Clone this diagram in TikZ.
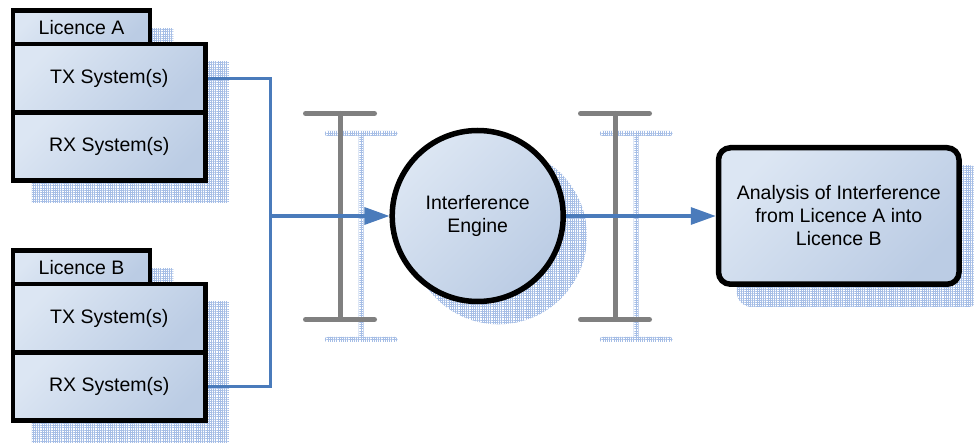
\documentclass[tikz,border=0pt]{standalone}
\usepackage{fontspec}
\setmainfont{Liberation Sans}
\usetikzlibrary{arrows.meta,patterns.meta}

\definecolor{boxlight}{HTML}{DCE6F3}
\definecolor{boxdark}{HTML}{BBCCE4}
\definecolor{linkblue}{HTML}{4A7BBB}
\definecolor{gridblue}{HTML}{A6BEE6}
\definecolor{beamgray}{HTML}{808080}

\pgfdeclarelayer{shadowlayer}
\pgfdeclarelayer{beamlayer}
\pgfdeclarelayer{linklayer}
\pgfsetlayers{shadowlayer,beamlayer,main,linklayer}

\tikzset{
  lbl/.style={font=\fontsize{19.5}{23}\selectfont, text=black, align=center},
  panel/.style={lbl, draw=black, line width=4.5pt, rectangle, inner sep=0pt,
    top color=boxlight, bottom color=boxdark, shading angle=45},
  shadowfill/.style={pattern={Hatch[angle=0,distance=2.2pt,line width=0.5pt]},
    pattern color=gridblue},
  beam/.style={draw=beamgray, line width=5pt, line cap=round},
  link/.style={draw=linkblue, line width=3.2pt},
  linkarrow/.style={link, -{Triangle[length=25pt,width=17pt]}},
}

\begin{document}
\begin{tikzpicture}[x=1pt,y=-1pt]
\useasboundingbox (0,0) rectangle (974,443);

% ---- shapes ----
\node[panel, minimum width=137pt, minimum height=33.5pt] (tabA) at (81.5,27.25) {Licence A};
\node[panel, minimum width=192.5pt, minimum height=68.5pt] (txA) at (109.25,78.25) {TX System(s)};
\node[panel, minimum width=192.5pt, minimum height=68pt] (rxA) at (109.25,146.5) {RX System(s)};
\node[panel, minimum width=137pt, minimum height=33.5pt] (tabB) at (81.5,267.25) {Licence B};
\node[panel, minimum width=192.5pt, minimum height=68.5pt] (txB) at (109.25,318.25) {TX System(s)};
\node[panel, minimum width=192.5pt, minimum height=68pt] (rxB) at (109.25,386.5) {RX System(s)};
\node[panel, circle, line width=5.5pt, minimum size=171pt] (engine) at (477.7,216) {Interference\\Engine};
\node[panel, line width=5.5pt, rounded corners=12pt, minimum width=240.5pt, minimum height=136.5pt]
    (result) at (838.75,216) {Analysis of Interference\\from Licence A into\\Licence B};

% ---- grid shadows ----
\begin{pgfonlayer}{shadowlayer}
\fill[white] (0,0) rectangle (974,443);
\fill[shadowfill] ([shift={(21,20)}]tabA.north west) rectangle ([shift={(21,20)}]tabA.south east);
\fill[shadowfill] ([shift={(21,20)}]txA.north west) rectangle ([shift={(21,20)}]rxA.south east);
\fill[shadowfill] ([shift={(21,20)}]tabB.north west) rectangle ([shift={(21,20)}]tabB.south east);
\fill[shadowfill] ([shift={(21,20)}]txB.north west) rectangle ([shift={(21,20)}]rxB.south east);
\fill[shadowfill] ([shift={(21,20)}]engine.center) circle[radius=88.3pt];
\fill[shadowfill, rounded corners=15pt] ([shift={(21,20)}]result.north west) rectangle ([shift={(21,20)}]result.south east);
% shadows of the two I-beams
\foreach \bx in {340,615}{
  \fill[shadowfill, rounded corners=2.5pt] (\bx-15.5,131) rectangle (\bx+57.5,136);
  \fill[shadowfill, rounded corners=2.5pt] (\bx-15.5,337) rectangle (\bx+57.5,342);
  \fill[shadowfill] (\bx+18.5,133) rectangle (\bx+23.5,340);
}
\end{pgfonlayer}

% ---- I-beams ----
\begin{pgfonlayer}{beamlayer}
\foreach \bx in {340,615}{
  \draw[beam] (\bx-34.5,113.5) -- (\bx+34.5,113.5);
  \draw[beam] (\bx-34.5,319.5) -- (\bx+34.5,319.5);
  \draw[beam] (\bx,113.5) -- (\bx,319.5);
}
\end{pgfonlayer}

% ---- connectors ----
\begin{pgfonlayer}{linklayer}
\coordinate (bus) at (270.5,216);
\draw[link] (txA.east) -| (bus) |- (rxB.east);
\draw[linkarrow] (bus) -- (engine.west);
\draw[linkarrow] (engine.east) -- (result.west);
\end{pgfonlayer}
\end{tikzpicture}
\end{document}
